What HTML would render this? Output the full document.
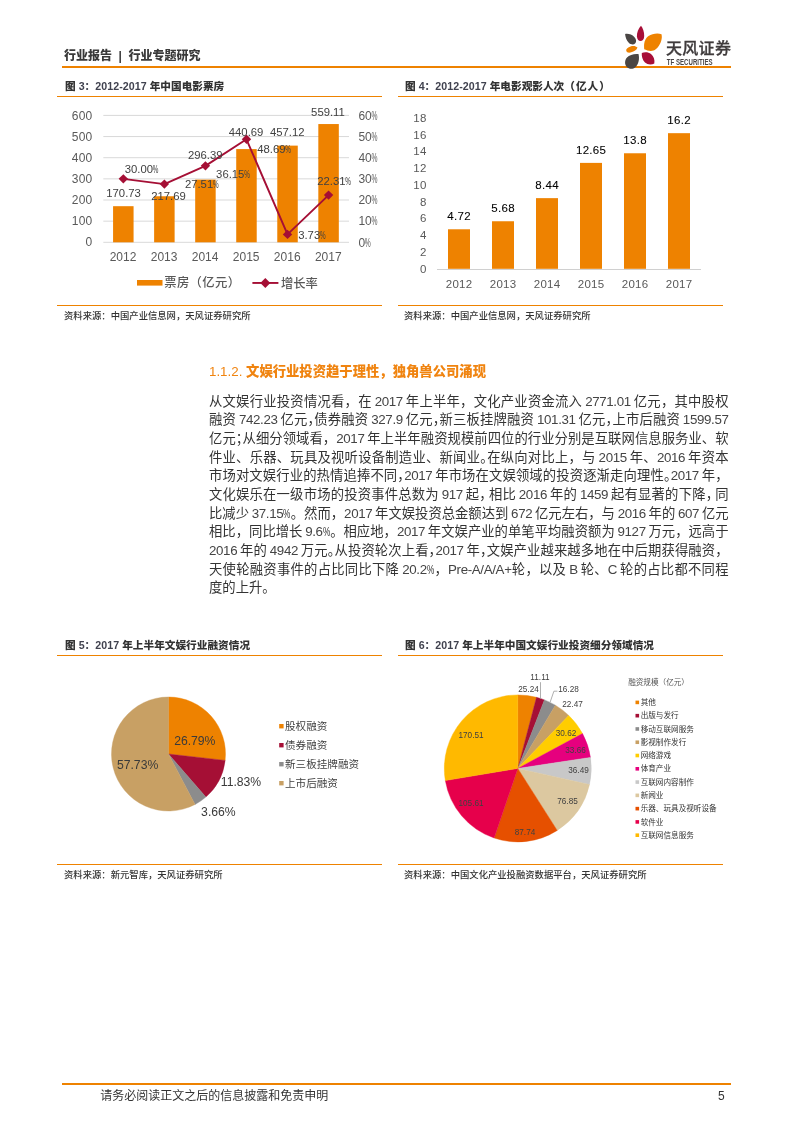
<!DOCTYPE html>
<html lang="zh-CN">
<head>
<meta charset="utf-8">
<title>行业报告 | 行业专题研究</title>
<style>
html,body{margin:0;padding:0;background:#fff;}
body{width:793px;height:1122px;position:relative;overflow:hidden;
  font-family:"Liberation Sans","Noto Sans CJK SC",sans-serif;color:#333;}
.abs{position:absolute;white-space:nowrap;}
.hl{position:absolute;background:#EE8200;height:1px;}
.hdr{left:64px;top:47.3px;font-size:12px;line-height:18px;font-weight:900;color:#3a3a3a;word-spacing:3.2px;}
.ftitle{font-size:10.67px;line-height:14px;font-weight:900;color:#333;}
.ftitle .n{font-weight:700;letter-spacing:0.05px;color:#40424f;}
.src{font-size:9.33px;line-height:14px;color:#333;font-weight:500;}
.h3{left:209px;top:362px;font-size:13.33px;line-height:20px;color:#F08410;font-weight:900;}
.h3 .n{font-weight:400;}
.p{position:absolute;left:209px;width:519.5px;font-size:13.33px;line-height:17.5px;height:17.5px;color:#333;
  text-align:justify;text-align-last:justify;text-justify:inter-character;font-weight:400;word-spacing:-1px;}
.p .d{letter-spacing:-0.35px;color:#444;}
.c{margin-right:-0.5em;}
.c2{margin-right:-0.3em;}
.pc{display:inline-block;transform:scaleX(.62);transform-origin:0 50%;margin-right:-4.4px;}
.p.last{text-align-last:left;}
.foot{font-size:12px;line-height:14px;color:#333;}
svg{position:absolute;left:0;top:0;overflow:visible;}
svg text{font-family:"Liberation Sans","Noto Sans CJK SC",sans-serif;}
</style>
</head>
<body>

<!-- header -->
<div class="abs hdr">行业报告 | 行业专题研究</div>
<div class="hl" style="left:62px;top:66px;width:669px;height:2px;"></div>
<svg width="793" height="80" viewBox="0 0 793 80">
<g id="logo">
<path fill="#A80F38" d="M641.0 25.8 C638.5 28.5 636.6 33 636.9 36.5 C637.2 39.5 638.8 41.1 640.4 41.1 C642.5 41.1 644.2 39.5 644.2 36 C644.2 32 643 28 641.0 25.8 Z"/>
<path fill="#4A4644" d="M625.1 34.0 C628 33.3 632 34.5 634.3 37 C636.5 39.3 636.6 41.8 635.3 43.3 C633.8 45 631 44.8 629 43 C626.5 40.8 625.3 37 625.1 34.0 Z"/>
<path fill="#EE8200" d="M661.5 34.2 C658 32.8 652 33.5 648.5 36 C645 38.5 643.5 43 644.2 49.3 C647 50.5 650.5 51.5 653.5 50.5 C657 49.3 660 45 661.3 40.5 C661.9 38 662 36 661.5 34.2 Z"/>
<path fill="#EE8200" d="M637.5 47.6 C636 45.8 633 45.6 630.5 46.4 C628 47.2 626 48.8 626.2 50.5 C626.5 52.5 628.5 53 630.5 52.6 C633.5 52 636.5 50.5 637.5 47.6 Z"/>
<path fill="#4A4644" d="M638.5 54.0 C634 53.5 629.5 54.8 627 57.5 C624.5 60.3 624.5 64.5 626.8 67 C629 69.3 632.8 69.5 635.3 67.3 C638.5 64.5 639.8 59 638.5 54.0 Z"/>
<path fill="#A80F38" d="M641.8 53.1 C644.5 51.8 648.5 52 651 54 C653.8 56.3 655 60 654.3 63.5 C651.5 65 647.5 64.8 645 62.5 C642.5 60.2 641.5 56.5 641.8 53.1 Z"/>
<text x="666" y="53.5" font-size="16" font-weight="500" fill="#3f3b3c" stroke="#3f3b3c" stroke-width="0.3" letter-spacing="0.3">天风证券</text>
<text x="666.8" y="64.8" font-size="8.6" font-weight="700" fill="#4a4647" textLength="45.8" lengthAdjust="spacingAndGlyphs">TF SECURITIES</text>
</g>
</svg>

<!-- figure titles row 1 -->
<div class="abs ftitle" style="left:65px;top:78.5px;">图 <span class="n">3：2012-2017</span> 年中国电影票房</div>
<div class="hl" style="left:57px;top:96px;width:325px;"></div>
<div class="abs ftitle" style="left:405px;top:78.5px;">图 <span class="n">4：2012-2017</span> 年电影观影人次<span style="letter-spacing:1px">（亿人）</span></div>
<div class="hl" style="left:398px;top:96px;width:325px;"></div>

<div class="hl" style="left:57px;top:305px;width:325px;"></div>
<div class="abs src" style="left:64px;top:309px;">资料来源：中国产业信息网，天风证券研究所</div>
<div class="hl" style="left:398px;top:305px;width:325px;"></div>
<div class="abs src" style="left:404px;top:309px;">资料来源：中国产业信息网，天风证券研究所</div>

<!-- section heading + paragraph -->
<div class="abs h3"><span class="n">1.1.2.</span> 文娱行业投资趋于理性，独角兽公司涌现</div>
<div class="p" style="top:392.60px;">从文娱行业投资情况看，在 <span class="d">2017</span> 年上半年，文化产业资金流入 <span class="d">2771.01</span> 亿元，其中股权</div>
<div class="p" style="top:411.26px;">融资 <span class="d">742.23</span> 亿元<span class="c">，</span>债券融资 <span class="d">327.9</span> 亿元<span class="c">，</span>新三板挂牌融资 <span class="d">101.31</span> 亿元<span class="c">，</span>上市后融资 <span class="d">1599.57</span></div>
<div class="p" style="top:429.92px;">亿元<span class="c">；</span>从细分领域看，<span class="d">2017</span> 年上半年融资规模前四位的行业分别是互联网信息服务业、软</div>
<div class="p" style="top:448.58px;">件业、乐器、玩具及视听设备制造业、新闻业<span class="c">。</span>在纵向对比上，与 <span class="d">2015</span> 年、<span class="d">2016</span> 年资本</div>
<div class="p" style="top:467.24px;">市场对文娱行业的热情追捧不同<span class="c">，</span><span class="d">2017</span> 年市场在文娱领域的投资逐渐走向理性<span class="c">。</span><span class="d">2017</span> 年，</div>
<div class="p" style="top:485.90px;">文化娱乐在一级市场的投资事件总数为 <span class="d">917</span> 起<span class="c2">，</span>相比 <span class="d">2016</span> 年的 <span class="d">1459</span> 起有显著的下降<span class="c2">，</span>同</div>
<div class="p" style="top:504.56px;">比减少 <span class="d">37.15</span><span class="pc">%</span>。然而，<span class="d">2017</span> 年文娱投资总金额达到 <span class="d">672</span> 亿元左右，与 <span class="d">2016</span> 年的 <span class="d">607</span> 亿元</div>
<div class="p" style="top:523.22px;">相比，同比增长 <span class="d">9.6</span><span class="pc">%</span>。相应地，<span class="d">2017</span> 年文娱产业的单笔平均融资额为 <span class="d">9127</span> 万元，远高于</div>
<div class="p" style="top:541.88px;"><span class="d">2016</span> 年的 <span class="d">4942</span> 万元<span class="c">。</span>从投资轮次上看<span class="c">，</span><span class="d">2017</span> 年<span class="c">，</span>文娱产业越来越多地在中后期获得融资，</div>
<div class="p" style="top:560.54px;">天使轮融资事件的占比同比下降 <span class="d">20.2</span><span class="pc">%</span>，<span class="d">Pre-A/A/A+</span>轮，以及 <span class="d">B</span> 轮、<span class="d">C</span> 轮的占比都不同程</div>
<div class="p last" style="top:579.20px;">度的上升。</div>

<!-- figure titles row 2 -->
<div class="abs ftitle" style="left:65px;top:637.5px;">图 <span class="n">5：2017</span> 年上半年文娱行业融资情况</div>
<div class="hl" style="left:57px;top:655px;width:325px;"></div>
<div class="abs ftitle" style="left:405px;top:637.5px;">图 <span class="n">6：2017</span> 年上半年中国文娱行业投资细分领域情况</div>
<div class="hl" style="left:398px;top:655px;width:325px;"></div>

<div class="hl" style="left:57px;top:864px;width:325px;"></div>
<div class="abs src" style="left:64px;top:868px;">资料来源：新元智库，天风证券研究所</div>
<div class="hl" style="left:398px;top:864px;width:325px;"></div>
<div class="abs src" style="left:404px;top:868px;">资料来源：中国文化产业投融资数据平台，天风证券研究所</div>

<!-- footer -->
<div class="hl" style="left:62px;top:1083px;width:669px;height:1.5px;"></div>
<div class="abs foot" style="left:100.3px;top:1088.6px;">请务必阅读正文之后的信息披露和免责申明</div>
<div class="abs foot" style="left:718px;top:1088.6px;">5</div>

<svg width="793" height="1122" viewBox="0 0 793 1122">
<g id="fig3">
<rect x="103.3" y="241.80" width="245.7" height="1" fill="#D9D9D9"/>
<text x="92.6" y="246.00" font-size="12" fill="#595959" text-anchor="end" letter-spacing="0.3">0</text>
<text x="358.40" y="246.60" font-size="12" fill="#595959">0</text><text transform="translate(364.87 246.60) scale(0.56 1)" font-size="12" fill="#595959">%</text>
<rect x="103.3" y="220.65" width="245.7" height="1" fill="#D9D9D9"/>
<text x="92.6" y="225.02" font-size="12" fill="#595959" text-anchor="end" letter-spacing="0.3">100</text>
<text x="358.40" y="225.45" font-size="12" fill="#595959">10</text><text transform="translate(371.54 225.45) scale(0.56 1)" font-size="12" fill="#595959">%</text>
<rect x="103.3" y="199.50" width="245.7" height="1" fill="#D9D9D9"/>
<text x="92.6" y="204.04" font-size="12" fill="#595959" text-anchor="end" letter-spacing="0.3">200</text>
<text x="358.40" y="204.30" font-size="12" fill="#595959">20</text><text transform="translate(371.54 204.30) scale(0.56 1)" font-size="12" fill="#595959">%</text>
<rect x="103.3" y="178.35" width="245.7" height="1" fill="#D9D9D9"/>
<text x="92.6" y="183.06" font-size="12" fill="#595959" text-anchor="end" letter-spacing="0.3">300</text>
<text x="358.40" y="183.15" font-size="12" fill="#595959">30</text><text transform="translate(371.54 183.15) scale(0.56 1)" font-size="12" fill="#595959">%</text>
<rect x="103.3" y="157.20" width="245.7" height="1" fill="#D9D9D9"/>
<text x="92.6" y="162.08" font-size="12" fill="#595959" text-anchor="end" letter-spacing="0.3">400</text>
<text x="358.40" y="162.00" font-size="12" fill="#595959">40</text><text transform="translate(371.54 162.00) scale(0.56 1)" font-size="12" fill="#595959">%</text>
<rect x="103.3" y="136.05" width="245.7" height="1" fill="#D9D9D9"/>
<text x="92.6" y="141.10" font-size="12" fill="#595959" text-anchor="end" letter-spacing="0.3">500</text>
<text x="358.40" y="140.85" font-size="12" fill="#595959">50</text><text transform="translate(371.54 140.85) scale(0.56 1)" font-size="12" fill="#595959">%</text>
<rect x="103.3" y="114.90" width="245.7" height="1" fill="#D9D9D9"/>
<text x="92.6" y="120.12" font-size="12" fill="#595959" text-anchor="end" letter-spacing="0.3">600</text>
<text x="358.40" y="119.70" font-size="12" fill="#595959">60</text><text transform="translate(371.54 119.70) scale(0.56 1)" font-size="12" fill="#595959">%</text>
<rect x="113.07" y="206.19" width="20.50" height="36.11" fill="#EE8200"/>
<text x="123.02" y="261.4" font-size="12" fill="#595959" text-anchor="middle">2012</text>
<rect x="154.12" y="196.26" width="20.50" height="46.04" fill="#EE8200"/>
<text x="164.07" y="261.4" font-size="12" fill="#595959" text-anchor="middle">2013</text>
<rect x="195.18" y="179.61" width="20.50" height="62.69" fill="#EE8200"/>
<text x="205.12" y="261.4" font-size="12" fill="#595959" text-anchor="middle">2014</text>
<rect x="236.22" y="149.09" width="20.50" height="93.21" fill="#EE8200"/>
<text x="246.17" y="261.4" font-size="12" fill="#595959" text-anchor="middle">2015</text>
<rect x="277.27" y="145.62" width="20.50" height="96.68" fill="#EE8200"/>
<text x="287.22" y="261.4" font-size="12" fill="#595959" text-anchor="middle">2016</text>
<rect x="318.32" y="124.05" width="20.50" height="118.25" fill="#EE8200"/>
<text x="328.27" y="261.4" font-size="12" fill="#595959" text-anchor="middle">2017</text>
<polyline points="123.32,178.85 164.38,184.12 205.43,165.84 246.47,139.32 287.52,234.41 328.57,195.11" fill="none" stroke="#A50F35" stroke-width="1.9" stroke-linejoin="round"/>
<path d="M123.32 174.15 l4.7 4.7 l-4.7 4.7 l-4.7 -4.7 z" fill="#A50F35"/>
<path d="M164.38 179.42 l4.7 4.7 l-4.7 4.7 l-4.7 -4.7 z" fill="#A50F35"/>
<path d="M205.43 161.14 l4.7 4.7 l-4.7 4.7 l-4.7 -4.7 z" fill="#A50F35"/>
<path d="M246.47 134.62 l4.7 4.7 l-4.7 4.7 l-4.7 -4.7 z" fill="#A50F35"/>
<path d="M287.52 229.71 l4.7 4.7 l-4.7 4.7 l-4.7 -4.7 z" fill="#A50F35"/>
<path d="M328.57 190.41 l4.7 4.7 l-4.7 4.7 l-4.7 -4.7 z" fill="#A50F35"/>
<text x="106.3" y="196.8" font-size="11.3" fill="#404040">170.73</text>
<text x="151.2" y="199.8" font-size="11.3" fill="#404040">217.69</text>
<text x="187.9" y="158.6" font-size="11.3" fill="#404040">296.39</text>
<text x="228.8" y="135.8" font-size="11.3" fill="#404040">440.69</text>
<text x="269.9" y="135.8" font-size="11.3" fill="#404040">457.12</text>
<text x="311.1" y="115.9" font-size="11.3" fill="#404040">559.11</text>
<text x="124.80" y="172.70" font-size="11.3" fill="#404040">30.00</text><text transform="translate(152.87 172.70) scale(0.56 1)" font-size="11.3" fill="#404040">%</text>
<text x="184.90" y="188.30" font-size="11.3" fill="#404040">27.51</text><text transform="translate(212.97 188.30) scale(0.56 1)" font-size="11.3" fill="#404040">%</text>
<text x="216.10" y="177.70" font-size="11.3" fill="#404040">36.15</text><text transform="translate(244.17 177.70) scale(0.56 1)" font-size="11.3" fill="#404040">%</text>
<text x="257.20" y="153.00" font-size="11.3" fill="#404040">48.69</text><text transform="translate(285.27 153.00) scale(0.56 1)" font-size="11.3" fill="#404040">%</text>
<text x="298.20" y="238.60" font-size="11.3" fill="#404040">3.73</text><text transform="translate(319.99 238.60) scale(0.56 1)" font-size="11.3" fill="#404040">%</text>
<text x="317.20" y="185.10" font-size="11.3" fill="#404040">22.31</text><text transform="translate(345.27 185.10) scale(0.56 1)" font-size="11.3" fill="#404040">%</text>
<rect x="137" y="280" width="25.5" height="5.6" fill="#EE8200"/>
<text x="164.2" y="287.3" font-size="12.3" font-weight="500" letter-spacing="0.4" fill="#595959">票房（亿元）</text>
<rect x="252.4" y="282" width="26" height="1.9" fill="#A50F35"/>
<path d="M265.3 278 l5 5 l-5 5 l-5 -5 z" fill="#A50F35"/>
<text x="281" y="287.5" font-size="12.3" font-weight="500" fill="#595959">增长率</text>
</g>
<g id="fig4" letter-spacing="0.3">
<text x="426.6" y="272.60" font-size="11.5" fill="#595959" text-anchor="end">0</text>
<text x="426.6" y="255.86" font-size="11.5" fill="#595959" text-anchor="end">2</text>
<text x="426.6" y="239.11" font-size="11.5" fill="#595959" text-anchor="end">4</text>
<text x="426.6" y="222.37" font-size="11.5" fill="#595959" text-anchor="end">6</text>
<text x="426.6" y="205.62" font-size="11.5" fill="#595959" text-anchor="end">8</text>
<text x="426.6" y="188.88" font-size="11.5" fill="#595959" text-anchor="end">10</text>
<text x="426.6" y="172.14" font-size="11.5" fill="#595959" text-anchor="end">12</text>
<text x="426.6" y="155.39" font-size="11.5" fill="#595959" text-anchor="end">14</text>
<text x="426.6" y="138.65" font-size="11.5" fill="#595959" text-anchor="end">16</text>
<text x="426.6" y="121.90" font-size="11.5" fill="#595959" text-anchor="end">18</text>
<rect x="437.0" y="269.00" width="264.0" height="1" fill="#D0D0D0"/>
<rect x="448.00" y="229.28" width="22.00" height="39.52" fill="#EE8200"/>
<text x="459.10" y="287.6" font-size="11.5" fill="#595959" text-anchor="middle">2012</text>
<text x="459.10" y="220.38" font-size="11.5" fill="#000" stroke="#000" stroke-width="0.08" text-anchor="middle">4.72</text>
<rect x="492.00" y="221.25" width="22.00" height="47.55" fill="#EE8200"/>
<text x="503.10" y="287.6" font-size="11.5" fill="#595959" text-anchor="middle">2013</text>
<text x="503.10" y="212.35" font-size="11.5" fill="#000" stroke="#000" stroke-width="0.08" text-anchor="middle">5.68</text>
<rect x="536.00" y="198.14" width="22.00" height="70.66" fill="#EE8200"/>
<text x="547.10" y="287.6" font-size="11.5" fill="#595959" text-anchor="middle">2014</text>
<text x="547.10" y="189.24" font-size="11.5" fill="#000" stroke="#000" stroke-width="0.08" text-anchor="middle">8.44</text>
<rect x="580.00" y="162.89" width="22.00" height="105.91" fill="#EE8200"/>
<text x="591.10" y="287.6" font-size="11.5" fill="#595959" text-anchor="middle">2015</text>
<text x="591.10" y="153.99" font-size="11.5" fill="#000" stroke="#000" stroke-width="0.08" text-anchor="middle">12.65</text>
<rect x="624.00" y="153.27" width="22.00" height="115.53" fill="#EE8200"/>
<text x="635.10" y="287.6" font-size="11.5" fill="#595959" text-anchor="middle">2016</text>
<text x="635.10" y="144.37" font-size="11.5" fill="#000" stroke="#000" stroke-width="0.08" text-anchor="middle">13.8</text>
<rect x="668.00" y="133.17" width="22.00" height="135.63" fill="#EE8200"/>
<text x="679.10" y="287.6" font-size="11.5" fill="#595959" text-anchor="middle">2017</text>
<text x="679.10" y="124.27" font-size="11.5" fill="#000" stroke="#000" stroke-width="0.08" text-anchor="middle">16.2</text>
</g>
<g id="fig5">
<path d="M168.50 754.00 L168.50 697.00 A57.00 57.00 0 0 1 225.14 760.39 Z" fill="#EE8200" stroke="#EE8200" stroke-width="0.4"/>
<path d="M168.50 754.00 L225.14 760.39 A57.00 57.00 0 0 1 205.88 797.03 Z" fill="#A50F35" stroke="#A50F35" stroke-width="0.4"/>
<path d="M168.50 754.00 L205.88 797.03 A57.00 57.00 0 0 1 195.09 804.42 Z" fill="#8C8C8C" stroke="#8C8C8C" stroke-width="0.4"/>
<path d="M168.50 754.00 L195.09 804.42 A57.00 57.00 0 1 1 168.50 697.00 Z" fill="#C8A064" stroke="#C8A064" stroke-width="0.4"/>
<text x="194.8" y="745.3" font-size="12.2" fill="#3a3a3a" text-anchor="middle">26.79%</text>
<text x="241.0" y="786.1" font-size="12.2" fill="#3a3a3a" text-anchor="middle">11.83%</text>
<text x="218.4" y="815.6" font-size="12.2" fill="#3a3a3a" text-anchor="middle">3.66%</text>
<text x="137.6" y="768.9" font-size="12.2" fill="#3a3a3a" text-anchor="middle">57.73%</text>
<rect x="279.2" y="724.00" width="4.4" height="4.4" fill="#EE8200"/>
<text x="285" y="729.60" font-size="10.6" fill="#404040" font-weight="400">股权融资</text>
<rect x="279.2" y="743.00" width="4.4" height="4.4" fill="#A50F35"/>
<text x="285" y="748.60" font-size="10.6" fill="#404040" font-weight="400">债券融资</text>
<rect x="279.2" y="762.00" width="4.4" height="4.4" fill="#8C8C8C"/>
<text x="285" y="767.60" font-size="10.6" fill="#404040" font-weight="400">新三板挂牌融资</text>
<rect x="279.2" y="781.00" width="4.4" height="4.4" fill="#C8A064"/>
<text x="285" y="786.60" font-size="10.6" fill="#404040" font-weight="400">上市后融资</text>
</g>
<g id="fig6">
<path d="M517.80 768.40 L517.80 694.90 A73.50 73.50 0 0 1 536.50 697.32 Z" fill="#EE8200" stroke="#EE8200" stroke-width="0.4"/>
<path d="M517.80 768.40 L536.50 697.32 A73.50 73.50 0 0 1 544.41 699.89 Z" fill="#A50F35" stroke="#A50F35" stroke-width="0.4"/>
<path d="M517.80 768.40 L544.41 699.89 A73.50 73.50 0 0 1 555.36 705.22 Z" fill="#8C8C8C" stroke="#8C8C8C" stroke-width="0.4"/>
<path d="M517.80 768.40 L555.36 705.22 A73.50 73.50 0 0 1 568.72 715.39 Z" fill="#C8A064" stroke="#C8A064" stroke-width="0.4"/>
<path d="M517.80 768.40 L568.72 715.39 A73.50 73.50 0 0 1 582.53 733.58 Z" fill="#FFCD00" stroke="#FFCD00" stroke-width="0.4"/>
<path d="M517.80 768.40 L582.53 733.58 A73.50 73.50 0 0 1 590.47 757.38 Z" fill="#E6007E" stroke="#E6007E" stroke-width="0.4"/>
<path d="M517.80 768.40 L590.47 757.38 A73.50 73.50 0 0 1 589.51 784.54 Z" fill="#C8C8C8" stroke="#C8C8C8" stroke-width="0.4"/>
<path d="M517.80 768.40 L589.51 784.54 A73.50 73.50 0 0 1 557.23 830.43 Z" fill="#DCC8A0" stroke="#DCC8A0" stroke-width="0.4"/>
<path d="M517.80 768.40 L557.23 830.43 A73.50 73.50 0 0 1 494.13 837.99 Z" fill="#E65000" stroke="#E65000" stroke-width="0.4"/>
<path d="M517.80 768.40 L494.13 837.99 A73.50 73.50 0 0 1 445.32 780.60 Z" fill="#E6004B" stroke="#E6004B" stroke-width="0.4"/>
<path d="M517.80 768.40 L445.32 780.60 A73.50 73.50 0 0 1 517.80 694.90 Z" fill="#FFB900" stroke="#FFB900" stroke-width="0.4"/>
<text x="528.5" y="692.2" font-size="8.2" fill="#404040" text-anchor="middle">25.24</text>
<text x="540.0" y="680.4" font-size="8.2" fill="#404040" text-anchor="middle">11.11</text>
<text x="568.5" y="691.6" font-size="8.2" fill="#404040" text-anchor="middle">16.28</text>
<text x="572.5" y="707.2" font-size="8.2" fill="#404040" text-anchor="middle">22.47</text>
<text x="566.0" y="735.8" font-size="8.2" fill="#404040" text-anchor="middle">30.62</text>
<text x="575.5" y="753.4" font-size="8.2" fill="#404040" text-anchor="middle">33.66</text>
<text x="578.5" y="772.9" font-size="8.2" fill="#404040" text-anchor="middle">36.49</text>
<text x="567.5" y="804.3" font-size="8.2" fill="#404040" text-anchor="middle">76.85</text>
<text x="525.0" y="834.6" font-size="8.2" fill="#404040" text-anchor="middle">87.74</text>
<text x="471.0" y="806.0" font-size="8.2" fill="#404040" text-anchor="middle">105.61</text>
<text x="471.0" y="737.6" font-size="8.2" fill="#404040" text-anchor="middle">170.51</text>
<polyline points="540.5,682.2 540.5,699" fill="none" stroke="#9a9a9a" stroke-width="0.8"/>
<polyline points="557.4,691.2 553.9,691.2 550.2,702" fill="none" stroke="#9a9a9a" stroke-width="0.8"/>
<text x="628.2" y="685.2" font-size="7.6" fill="#555">融资规模（亿元）</text>
<rect x="635.5" y="700.60" width="3.6" height="3.6" fill="#EE8200"/>
<text x="640.7" y="705.00" font-size="7.6" fill="#333">其他</text>
<rect x="635.5" y="713.88" width="3.6" height="3.6" fill="#A50F35"/>
<text x="640.7" y="718.28" font-size="7.6" fill="#333">出版与发行</text>
<rect x="635.5" y="727.16" width="3.6" height="3.6" fill="#8C8C8C"/>
<text x="640.7" y="731.56" font-size="7.6" fill="#333">移动互联网服务</text>
<rect x="635.5" y="740.44" width="3.6" height="3.6" fill="#C8A064"/>
<text x="640.7" y="744.84" font-size="7.6" fill="#333">影视制作发行</text>
<rect x="635.5" y="753.72" width="3.6" height="3.6" fill="#FFCD00"/>
<text x="640.7" y="758.12" font-size="7.6" fill="#333">网络游戏</text>
<rect x="635.5" y="767.00" width="3.6" height="3.6" fill="#E6007E"/>
<text x="640.7" y="771.40" font-size="7.6" fill="#333">体育产业</text>
<rect x="635.5" y="780.28" width="3.6" height="3.6" fill="#C8C8C8"/>
<text x="640.7" y="784.68" font-size="7.6" fill="#333">互联网内容制作</text>
<rect x="635.5" y="793.56" width="3.6" height="3.6" fill="#DCC8A0"/>
<text x="640.7" y="797.96" font-size="7.6" fill="#333">新闻业</text>
<rect x="635.5" y="806.84" width="3.6" height="3.6" fill="#E65000"/>
<text x="640.7" y="811.24" font-size="7.6" fill="#333">乐器、玩具及视听设备</text>
<rect x="635.5" y="820.12" width="3.6" height="3.6" fill="#E6004B"/>
<text x="640.7" y="824.52" font-size="7.6" fill="#333">软件业</text>
<rect x="635.5" y="833.40" width="3.6" height="3.6" fill="#FFB900"/>
<text x="640.7" y="837.80" font-size="7.6" fill="#333">互联网信息服务</text>
</g>
</svg>
</body>
</html>
